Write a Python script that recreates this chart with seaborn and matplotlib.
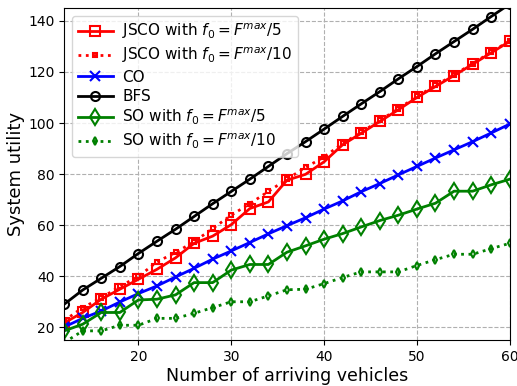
import matplotlib
matplotlib.use('Agg')
import matplotlib.pyplot as plt
import seaborn as sns
import pandas as pd

# number of arriving vehicles
vehicles = list(range(12, 61, 2))

jsco_f5 = [21.7, 25.8, 31.0, 34.9, 38.8, 42.7, 47.2, 52.9, 55.7, 60.2, 66.5, 69.1, 77.6,
           79.9, 84.8, 91.5, 96.0, 100.6, 105.2, 110.0, 114.3, 118.6, 123.0, 127.5, 132.0]
jsco_f10 = [22.6, 27.7, 31.5, 36.0, 39.9, 45.6, 49.3, 53.5, 58.7, 63.9, 68.4, 73.2, 78.0,
            82.6, 86.7, 92.0, 96.4, 101.0, 105.6, 110.4, 114.7, 118.9, 123.3, 127.8, 132.2]
co = [20.1, 23.5, 26.4, 29.9, 33.2, 36.2, 39.7, 43.1, 46.7, 49.9, 53.2, 56.6, 59.8,
      62.9, 66.3, 69.5, 73.1, 76.3, 79.7, 83.0, 86.3, 89.5, 92.7, 96.1, 99.6]
bfs = [29.0, 34.6, 39.2, 43.8, 48.9, 53.7, 58.4, 63.4, 68.4, 73.2, 78.0, 83.0, 88.0,
       92.7, 97.6, 102.6, 107.5, 112.3, 117.3, 122.1, 127.1, 131.9, 136.7, 141.7, 146.6]
so_f5 = [18.6, 21.2, 25.8, 25.8, 30.7, 31.0, 32.7, 37.5, 37.5, 42.4, 44.6, 44.6, 49.4,
         51.9, 54.5, 56.7, 59.3, 61.8, 63.9, 66.3, 68.6, 73.3, 73.3, 75.8, 78.0]
so_f10 = [14.0, 18.6, 18.6, 20.8, 20.8, 23.5, 23.5, 25.5, 27.7, 30.0, 30.0, 32.3, 34.7,
          34.9, 37.1, 39.5, 41.7, 41.7, 41.7, 44.2, 46.5, 48.6, 48.6, 50.8, 52.9]

labels = [r'JSCO with $f_0=F^{max}/5$', r'JSCO with $f_0=F^{max}/10$', 'CO', 'BFS',
          r'SO with $f_0=F^{max}/5$', r'SO with $f_0=F^{max}/10$']

df = pd.DataFrame({'x': vehicles, 'jsco5': jsco_f5, 'jsco10': jsco_f10, 'co': co,
                   'bfs': bfs, 'so5': so_f5, 'so10': so_f10})

# (column, color, linestyle, marker, markersize, hollow)
styles = [
    ('jsco5', 'red', '-', 's', 7, True),
    ('jsco10', 'red', ':', 's', 3.5, True),
    ('co', 'blue', '-', 'x', 7, False),
    ('bfs', 'black', '-', 'o', 6.5, True),
    ('so5', 'green', '-', 'd', 8, True),
    ('so10', 'green', ':', 'd', 4, True),
]

fig, ax = plt.subplots(figsize=(5.17, 3.86), dpi=100)
fig.subplots_adjust(left=0.124, right=0.986, bottom=0.119, top=0.979)

for (col, color, ls, mk, ms, hollow), lab in zip(styles, labels):
    sns.lineplot(data=df, x='x', y=col, ax=ax, label=lab, sort=False, color=color)
    line = ax.lines[-1]
    line.set_linestyle(ls)
    line.set_linewidth(2)
    line.set_marker(mk)
    line.set_markersize(ms)
    line.set_markeredgecolor(color)
    line.set_markeredgewidth(1.5)
    line.set_markerfacecolor('none' if hollow else color)

ax.set_xlim(12, 60)
ax.set_ylim(15, 145)
ax.set_xticks([20, 30, 40, 50, 60])
ax.set_yticks([20, 40, 60, 80, 100, 120, 140])
ax.tick_params(labelsize=10)
ax.grid(True, linestyle='--', color='#b0b0b0', linewidth=0.8)
ax.set_xlabel('Number of arriving vehicles', fontsize=12.5, labelpad=2)
ax.set_ylabel('System utility', fontsize=13, labelpad=2)
ax.legend(loc='upper left', fontsize=11, handlelength=2.3, labelspacing=0.28,
          borderpad=0.4, handletextpad=0.6)

plt.savefig('out.png', dpi=100)
plt.close()
